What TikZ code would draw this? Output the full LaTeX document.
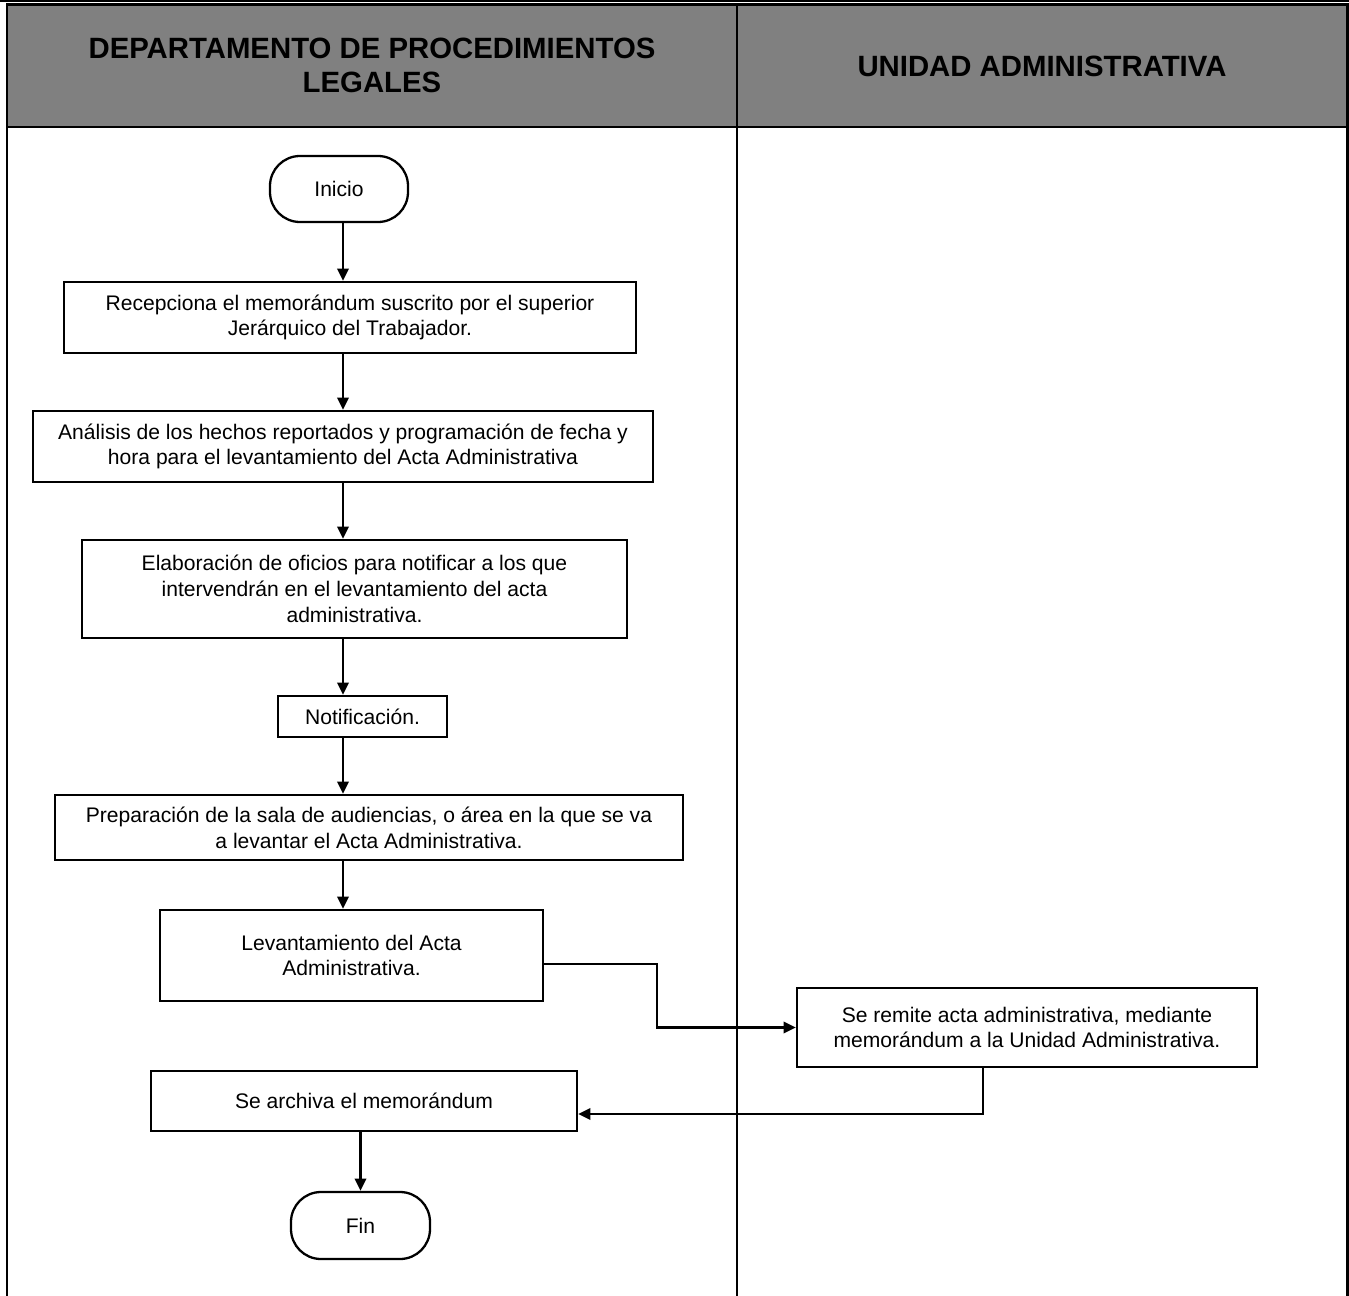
\documentclass[tikz,border=0pt]{standalone}
\usepackage{fontspec}
\setmainfont{Liberation Sans}
\usetikzlibrary{arrows.meta}
\definecolor{cabecera}{RGB}{128,128,128}

\begin{document}
\begin{tikzpicture}[
    caja/.style={draw, line width=1.3pt, align=center, inner sep=2pt,
        font=\fontsize{12}{14.7}\selectfont},
    terminal/.style={caja, rounded corners=0.6cm},
    flecha/.style={line width=1.2pt, -{Triangle[length=7pt,width=6.5pt]}},
    carril/.style={line width=1.5pt}]
    \useasboundingbox (0,0) rectangle (26.98,-25.92);
    % encabezado
    \fill[cabecera] (0.14,-0.09) rectangle (26.95,-2.54);
    \draw[line width=1.3pt] (0,-0.02) -- (26.98,-0.02);
    \draw[carril] (0.14,-25.92) -- (0.14,-0.09) -- (26.95,-0.09) -- (26.95,-25.92);
    \draw[carril] (0.14,-2.54) -- (26.95,-2.54);
    \draw[carril] (14.74,-0.09) -- (14.74,-25.92);
    \node[align=center, font=\fontsize{16.7}{19}\selectfont\bfseries] (dpl) at (7.44,-1.31)
        {DEPARTAMENTO DE PROCEDIMIENTOS\\LEGALES};
    \node[font=\fontsize{16.7}{19}\selectfont\bfseries] (ua) at (20.84,-1.33)
        {UNIDAD ADMINISTRATIVA};

    % pasos
    \node[terminal, minimum width=2.76cm, minimum height=1.32cm] (ini) at (6.78,-3.78) {Inicio};
    \node[caja, minimum width=11.44cm, minimum height=1.42cm] (rec) at (7.00,-6.35)
        {Recepciona el memorándum suscrito por el superior\\Jerárquico del Trabajador.};
    \node[caja, minimum width=12.40cm, minimum height=1.42cm] (ana) at (6.86,-8.93)
        {Análisis de los hechos reportados y programación de fecha y\\hora para el levantamiento del Acta Administrativa};
    \node[caja, minimum width=10.90cm, minimum height=1.96cm] (ofi) at (7.09,-11.78)
        {Elaboración de oficios para notificar a los que\\intervendrán en el levantamiento del acta\\administrativa.};
    \node[caja, minimum width=3.38cm, minimum height=0.82cm] (not) at (7.25,-14.33) {Notificación.};
    \node[caja, minimum width=12.56cm, minimum height=1.30cm] (sal) at (7.38,-16.55)
        {Preparación de la sala de audiencias, o área en la que se va\\a levantar el Acta Administrativa.};
    \node[caja, minimum width=7.66cm, minimum height=1.82cm] (lev) at (7.03,-19.11)
        {Levantamiento del Acta\\Administrativa.};
    \node[caja, minimum width=9.20cm, minimum height=1.58cm] (rem) at (20.54,-20.55)
        {Se remite acta administrativa, mediante\\memorándum a la Unidad Administrativa.};
    \node[caja, minimum width=8.52cm, minimum height=1.20cm] (arc) at (7.28,-22.02)
        {Se archiva el memorándum};
    \node[terminal, minimum width=2.78cm, minimum height=1.34cm] (fin) at (7.21,-24.51) {Fin};

    % conectores
    \coordinate (eje) at (6.86,0);
    \draw[flecha] (ini.south -| eje) -- (rec.north -| eje);
    \draw[flecha] (rec.south -| eje) -- (ana.north -| eje);
    \draw[flecha] (ana.south -| eje) -- (ofi.north -| eje);
    \draw[flecha] (ofi.south -| eje) -- (not.north -| eje);
    \draw[flecha] (not.south -| eje) -- (sal.north -| eje);
    \draw[flecha] (sal.south -| eje) -- (lev.north -| eje);
    \draw[flecha] ([yshift=-0.17cm]lev.east) -- ++(2.26,0) |- (rem.west);
    \draw[flecha] ([xshift=-0.88cm]rem.south) |- ([yshift=-0.26cm]arc.east);
    \draw[flecha] (arc.south -| fin.north) -- (fin.north);
\end{tikzpicture}
\end{document}
